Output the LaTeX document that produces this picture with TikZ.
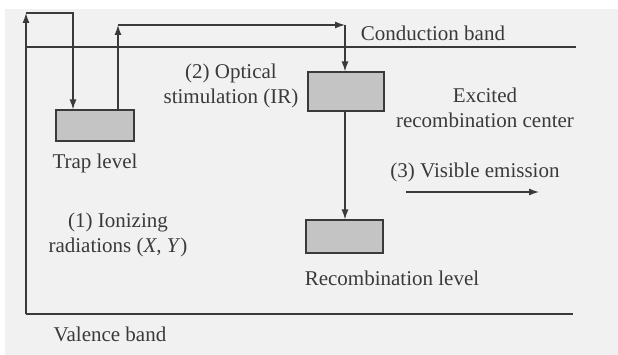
\documentclass[tikz,border=0pt]{standalone}
\usepackage{fontspec}
\setmainfont{Liberation Serif}
\usetikzlibrary{arrows.meta}
\definecolor{ink}{HTML}{3A3A3A}
\definecolor{boxfill}{HTML}{C4C4C4}
\definecolor{paper}{HTML}{F1F1F1}
\begin{document}
\begin{tikzpicture}[x=1pt,y=-1pt,
  line/.style={draw=ink,line width=1.3pt},
  arr/.style={line,-{Latex[length=10pt,width=7pt]}},
  level/.style={draw=ink,line width=1.1pt,fill=boxfill,inner sep=0pt},
  lbl/.style={text=ink,font=\fontsize{21}{25}\selectfont,align=center,inner sep=0pt}]
\useasboundingbox (0,0) rectangle (618,355);
\fill[white] (0,0) rectangle (618,355);
\fill[paper] (5,9) rectangle (618,355);
% levels
\node[level,minimum width=78pt,minimum height=31pt] (trap) at (95,125.5) {};
\node[level,minimum width=76pt,minimum height=39pt] (exc) at (346,91.5) {};
\node[level,minimum width=77pt,minimum height=33pt] (rec) at (344.5,236.5) {};
% bands
\coordinate (cbL) at (26,47);
\coordinate (cbR) at (576,47);
\coordinate (vbL) at (26,314);
\coordinate (vbR) at (573,314);
\draw[line] (cbL) -- (cbR);
\draw[line] (vbL) -- (vbR);
% corners
\coordinate (c1) at (26,13);
\coordinate (c2) at (73,13);
\coordinate (c3) at (118,25);
\coordinate (c4) at (345,25);
% ionizing path
\draw[arr] (vbL) -- (c1);
\draw[arr] (c1) -- (c2) -- (trap.north -| c2);
% optical stimulation path
\draw[arr] (trap.north -| c3) -- (c3);
\draw[arr] (c3) -- (c4);
\draw[arr] (c4) -- (exc.north -| c4);
% recombination
\draw[arr] (exc.south -| c4) -- (rec.north -| c4);
% emission arrow
\coordinate (e1) at (406,192);
\coordinate (e2) at (539,192);
\draw[arr] (e1) -- (e2);
% labels
\node[lbl] (tcb) at (433,33) {Conduction band};
\node[lbl] (tvb) at (110,334) {Valence band};
\node[lbl] (ttrap) at (95,163) {Trap level};
\node[lbl] (trec) at (392,278) {Recombination level};
\node[lbl] (topt) at (231,86) {(2) Optical\\stimulation (IR)};
\node[lbl] (texc) at (485,108) {Excited\\recombination center};
\node[lbl] (tvis) at (475,172) {(3) Visible emission};
\node[lbl] (tion) at (118,235) {(1) Ionizing\\radiations (\textit{X}, \textit{Y})};
\end{tikzpicture}
\end{document}
